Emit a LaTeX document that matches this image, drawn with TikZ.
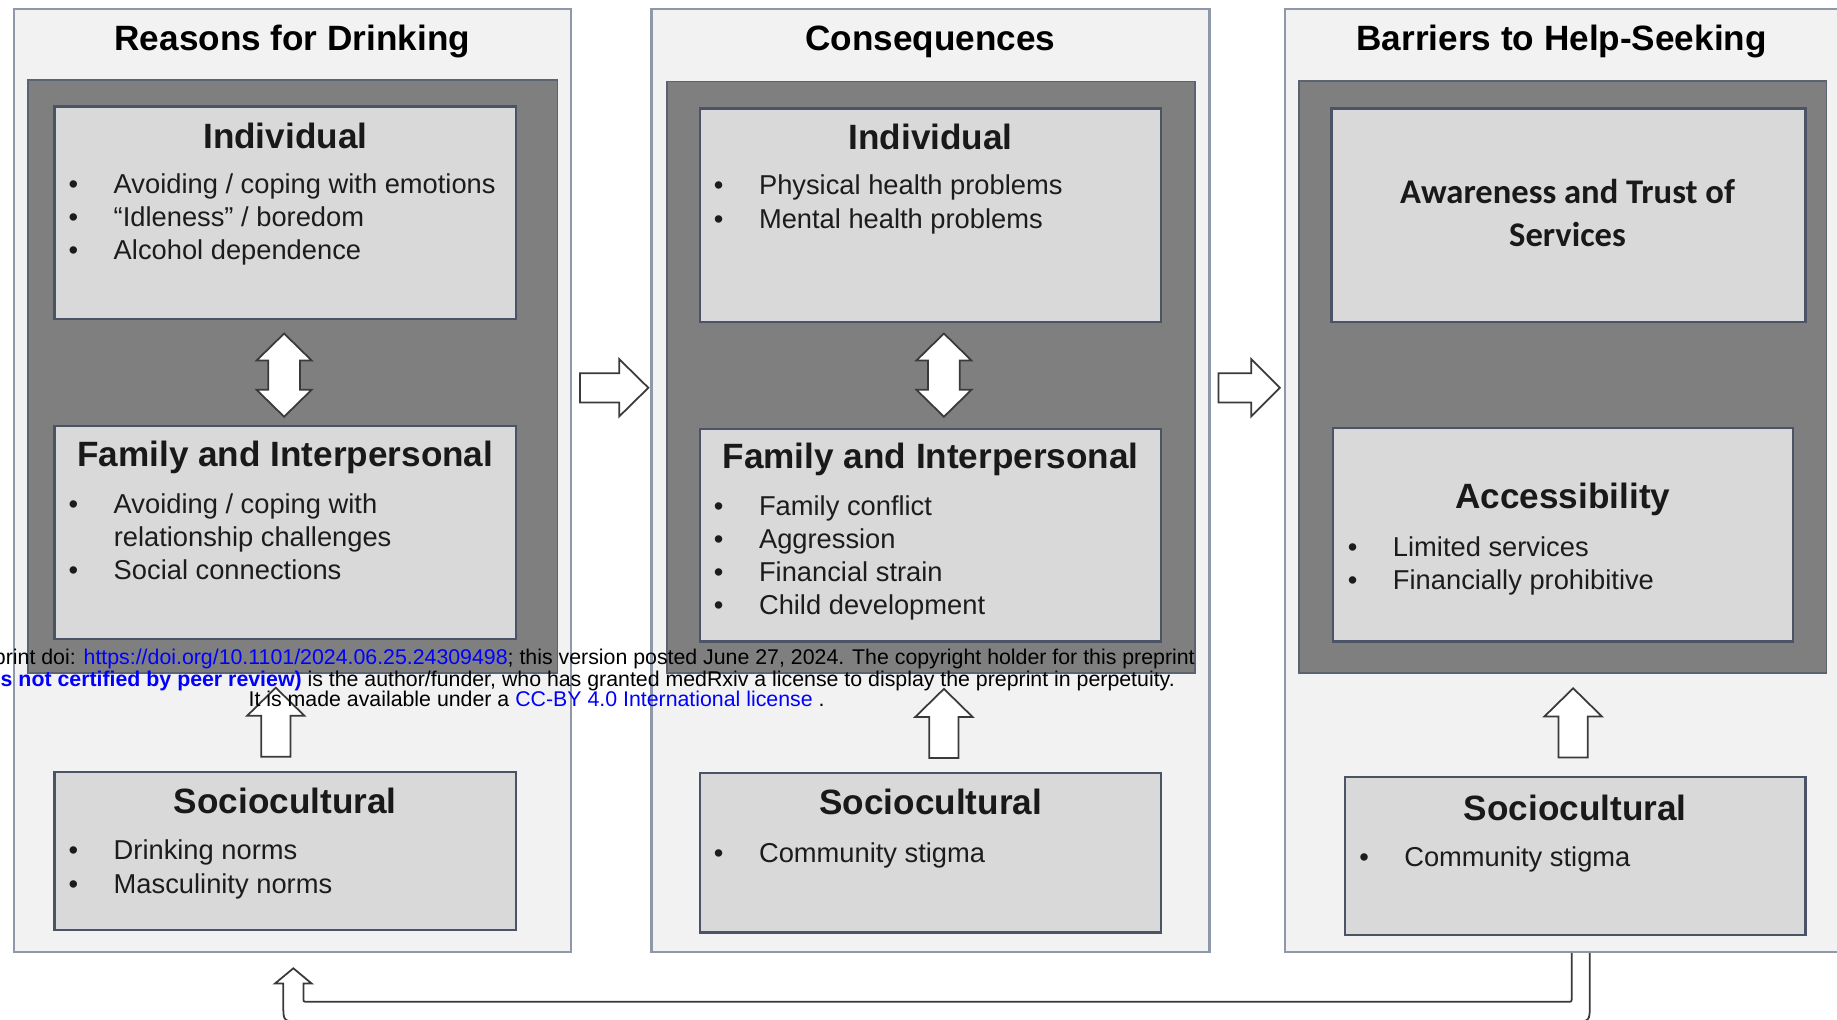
\documentclass[tikz,border=0pt]{standalone}
\usepackage{fontspec}
\setmainfont{Liberation Sans}
\newfontfamily\calibrifont{Carlito}
\usetikzlibrary{calc,fit}
\definecolor{panelfill}{HTML}{F2F2F2}
\definecolor{panelline}{HTML}{8E98A9}
\definecolor{darkfill}{HTML}{7F7F7F}
\definecolor{darkline}{HTML}{5C6270}
\definecolor{boxfill}{HTML}{D9D9D9}
\definecolor{boxline}{HTML}{4B5466}
\definecolor{txt}{HTML}{1C1C1C}
\definecolor{arrowline}{HTML}{3A3A3A}
\definecolor{wmblue}{HTML}{0000FF}
\newcommand\bul{\makebox[38.5pt][l]{•}}
\tikzset{
  panelbox/.style={draw=panelline, fill=panelfill, line width=2pt, inner sep=0pt},
  darkbox/.style={draw=darkline, fill=darkfill, line width=1.5pt, inner sep=0pt},
  itembox/.style={draw=boxline, fill=boxfill, line width=2pt, inner sep=0pt},
  paneltitle/.style={font=\fontsize{30}{36}\selectfont\bfseries, text=black, inner sep=0pt, anchor=base},
  boxtitle/.style={font=\fontsize{30}{36}\selectfont\bfseries, text=black!90, inner sep=0pt, anchor=base},
  caltitle/.style={font=\calibrifont\fontsize{29.5}{36}\selectfont\bfseries, text=black!90, inner sep=0pt, anchor=base},
  itemtext/.style={font=\fontsize{23.3}{28}\selectfont, text=txt, inner sep=0pt, anchor=base west},
  blockarrow/.style={draw=arrowline, fill=white, line width=1.5pt, line join=miter},
  watermark/.style={font=\fontsize{18.2}{18}\selectfont, inner sep=0pt, text=black},
  uparrowpic/.pic={\draw[blockarrow] (-12.5,0) -- (-12.5,-35) -- (-24.5,-35) -- (0,-59) -- (24.5,-35) -- (12.5,-35) -- (12.5,0) -- cycle;},
  dblarrowpic/.pic={\draw[blockarrow] (0,-35.5) -- (23.5,-12.5) -- (13.5,-12.5) -- (13.5,12.5) -- (23.5,12.5) -- (0,35.5) -- (-23.5,12.5) -- (-13.5,12.5) -- (-13.5,-12.5) -- (-23.5,-12.5) -- cycle;},
}
\begin{document}
\begin{tikzpicture}[x=1pt, y=-1pt]
\useasboundingbox (0,0) rectangle (1568,869.8);
\clip (0,0) rectangle (1568,869.8);
\fill[white] (0,0) rectangle (1568,869.8);

% feedback arrow (drawn first, panel covers its top)
\coordinate (fbstart) at (1341.5,806);
\coordinate (fbend) at (1357,806);
\draw[blockarrow] (fbstart) -- (1341.5,852) .. controls (1341.5,855) .. (1338.5,855)
  -- (262,855) .. controls (259,855) .. (259,852) -- (259,839.5) -- (266,839.5)
  -- (250.4,826.5) -- (234.7,839.5) -- (241.8,839.5) -- (241.8,857)
  .. controls (241.8,872) .. (256.8,872) -- (1342,872)
  .. controls (1357,872) .. (1357,857) -- (fbend);

% panels
\node[panelbox, fit={(12,7.5) (487.5,812.5)}] (p1) {};
\node[panelbox, fit={(556,7.5) (1032.5,812.5)}] (p2) {};
\node[panelbox, fit={(1097,7.5) (1580,812.5)}] (p3) {};

\node[paneltitle] (t1) at (249.5,43) {Reasons for Drinking};
\node[paneltitle] (t2) at (794,43) {Consequences};
\node[paneltitle] (t3) at (1333,43) {Barriers to Help-Seeking};

% dark boxes
\node[darkbox, fit={(23.8,68) (475.8,574.5)}] (d1) {};
\node[darkbox, fit={(569.6,69.5) (1020.1,574.2)}] (d2) {};
\node[darkbox, fit={(1108.8,69.2) (1559,574.6)}] (d3) {};

% ---- Panel 1
\node[itembox, fit={(46.6,91) (440.4,272.3)}] (ind1) {};
\node[boxtitle] (ind1t) at (243.5,126.6) {Individual};
\node[itemtext] (ind1a) at (58.4,165) {\bul Avoiding / coping with emotions};
\node[itemtext] (ind1b) at (58.4,193.3) {\bul “Idleness” / boredom};
\node[itemtext] (ind1c) at (58.4,221.5) {\bul Alcohol dependence};

\node[itembox, fit={(46.6,363.6) (440.4,545.5)}] (fam1) {};
\node[boxtitle] (fam1t) at (243.5,398.5) {Family and Interpersonal};
\node[itemtext] (fam1a) at (58.4,438) {\bul Avoiding / coping with};
\node[itemtext] (fam1b) at (96.9,466.3) {relationship challenges};
\node[itemtext] (fam1c) at (58.4,494.6) {\bul Social connections};

\node[itembox, fit={(46.6,659) (440.4,794)}] (soc1) {};
\node[boxtitle] (soc1t) at (243.5,694) {Sociocultural};
\node[itemtext] (soc1a) at (58.4,734) {\bul Drinking norms};
\node[itemtext] (soc1b) at (58.4,762.3) {\bul Masculinity norms};

\pic at (242.5,320.2) {dblarrowpic};
\pic at (235.4,646) {uparrowpic};

% ---- Panel 2
\node[itembox, fit={(597.5,92.5) (991.2,274.6)}] (ind2) {};
\node[boxtitle] (ind2t) at (794.4,127.6) {Individual};
\node[itemtext] (ind2a) at (609.2,166.4) {\bul Physical health problems};
\node[itemtext] (ind2b) at (609.2,194.8) {\bul Mental health problems};

\node[itembox, fit={(597.5,366) (991.2,547.7)}] (fam2) {};
\node[boxtitle] (fam2t) at (794.4,400) {Family and Interpersonal};
\node[itemtext] (fam2a) at (609.2,440.2) {\bul Family conflict};
\node[itemtext] (fam2b) at (609.2,468.4) {\bul Aggression};
\node[itemtext] (fam2c) at (609.2,496.6) {\bul Financial strain};
\node[itemtext] (fam2d) at (609.2,524.8) {\bul Child development};

\node[itembox, fit={(597.5,660) (991.2,796)}] (soc2) {};
\node[boxtitle] (soc2t) at (794.4,695.6) {Sociocultural};
\node[itemtext] (soc2a) at (609.2,736) {\bul Community stigma};

\pic at (805.7,320.2) {dblarrowpic};
\pic at (805.7,647) {uparrowpic};

% ---- Panel 3
\node[itembox, fit={(1136.4,92.5) (1541,274.6)}] (aw3) {};
\node[caltitle] (aw3t) at (1338,173.6) {Awareness and Trust of};
\node[caltitle] (aw3u) at (1338,210.6) {Services};

\node[itembox, fit={(1138,365.6) (1530.3,547.7)}] (acc3) {};
\node[boxtitle] (acc3t) at (1334,434) {Accessibility};
\node[itemtext] (acc3a) at (1150.3,475) {\bul Limited services};
\node[itemtext] (acc3b) at (1150.3,503.3) {\bul Financially prohibitive};

\node[itembox, fit={(1147.8,663) (1541,798)}] (soc3) {};
\node[boxtitle] (soc3t) at (1344.5,700) {Sociocultural};
\node[itemtext] (soc3a) at (1160,740) {\bul Community stigma};

\pic at (1342.8,646.5) {uparrowpic};

% right arrows between panels
\draw[blockarrow, shift={(495,331)}] (0,-12.5) -- (33.5,-12.5) -- (33.5,-24.5) -- (58.4,0) -- (33.5,24.5) -- (33.5,12.5) -- (0,12.5) -- cycle;
\draw[blockarrow, shift={(1040,331)}] (0,-12.5) -- (28,-12.5) -- (28,-24.5) -- (52.5,0) -- (28,24.5) -- (28,12.5) -- (0,12.5) -- cycle;

% watermark overlay
\node[watermark, anchor=base east] (wm1) at (1020,567.6) {print doi: \textcolor{wmblue}{https://doi.org/10.1101/2024.06.25.24309498}; this version posted June 27, 2024. The copyright holder for this preprint};
\node[watermark, anchor=base east] (wm2) at (1003,585.6) {\textcolor{wmblue}{\bfseries s not certified by peer review)} is the author/funder, who has granted medRxiv a license to display the preprint in perpetuity.};
\node[watermark, anchor=base west] (wm3) at (212,603) {It is made available under a \textcolor{wmblue}{CC-BY 4.0 International license} .};
\end{tikzpicture}
\end{document}
